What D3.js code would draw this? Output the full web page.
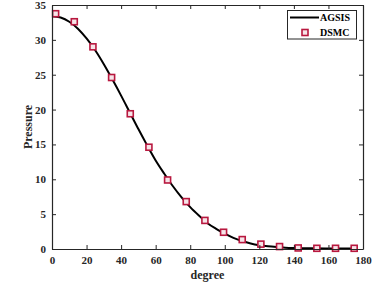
<!DOCTYPE html>
<html><head><meta charset="utf-8">
<script src="https://cdn.jsdelivr.net/npm/d3@7"></script>
<style>html,body{margin:0;padding:0;background:#fff;}svg{display:block;}</style>
</head><body>
<script>
// AGSIS curve (degree, pressure)
const agsisDeg = [0,5,10,15,20,25,30,35,40,45,50,55,60,65,70,75,80,85,90,95,100,105,110,115,120,125,130,135,140,150,160,170,175];
const agsisVal = [33.4,33.2,32.6,31.6,30.2,28.5,26.5,24.3,22.0,19.6,17.2,14.9,12.7,10.8,9.0,7.4,6.0,4.8,3.7,2.9,2.2,1.6,1.15,0.8,0.55,0.38,0.27,0.19,0.14,0.09,0.07,0.06,0.06];
// DSMC points
const dsmcDeg = [2.1,12.9,23.7,34.5,45.3,56.1,66.9,77.7,88.5,99.3,110.1,120.9,131.7,142.5,153.3,164.1,174.9];
const dsmcVal = [33.75,32.6,29.0,24.6,19.4,14.6,9.9,6.8,4.1,2.4,1.35,0.7,0.35,0.15,0.1,0.1,0.1];
const xTicks = [0,20,40,60,80,100,120,140,160,180];
const yTicks = [0,5,10,15,20,25,30,35];

const W = 383, H = 283;
const m = {l:52, r:20, t:5, b:34};
const svg = d3.select("body").append("svg").attr("width", W).attr("height", H);
const x = d3.scaleLinear().domain([0,180]).range([m.l, W - m.r]);
const y = d3.scaleLinear().domain([0,35]).range([H - m.b, m.t]);
const font = "'Liberation Serif','Times New Roman',serif";
const axisCol = "#262626";

function styleAxis(g, hideText) {
  g.select(".domain").attr("stroke", axisCol).attr("stroke-width", 1.2);
  g.selectAll(".tick line").attr("stroke", axisCol).attr("stroke-width", 1);
  g.selectAll("text").attr("font-family", font).attr("font-weight", "bold").attr("font-size", 11).attr("fill", "#262626");
  if (hideText) g.selectAll("text").remove();
}

const data = agsisDeg.map((d,i)=>({d, v: agsisVal[i]}));
const pts = dsmcDeg.map((d,i)=>({d, v: dsmcVal[i]}));

svg.append("path").datum(data)
  .attr("fill","none").attr("stroke","#000").attr("stroke-width",2)
  .attr("d", d3.line().x(p=>x(p.d)).y(p=>y(p.v)).curve(d3.curveMonotoneX));

svg.selectAll("rect.pt").data(pts).enter().append("rect")
  .attr("class","pt")
  .attr("x", p=>x(p.d)-3).attr("y", p=>y(p.v)-3)
  .attr("width",6).attr("height",6)
  .attr("fill","#f6e4e8").attr("stroke","#b8183f").attr("stroke-width",1.6);

// axes
const gx = svg.append("g").attr("transform",`translate(0,${H-m.b})`)
  .call(d3.axisBottom(x).tickValues(xTicks).tickSizeInner(-4).tickSizeOuter(0).tickPadding(7));
styleAxis(gx);
const gxt = svg.append("g").attr("transform",`translate(0,${m.t})`)
  .call(d3.axisTop(x).tickValues(xTicks).tickSizeInner(-4).tickSizeOuter(0));
styleAxis(gxt, true);
const gy = svg.append("g").attr("transform",`translate(${m.l},0)`)
  .call(d3.axisLeft(y).tickValues(yTicks).tickSizeInner(-4).tickSizeOuter(0).tickPadding(6));
styleAxis(gy);
const gyr = svg.append("g").attr("transform",`translate(${W-m.r},0)`)
  .call(d3.axisRight(y).tickValues(yTicks).tickSizeInner(-4).tickSizeOuter(0));
styleAxis(gyr, true);

// axis labels
svg.append("text").attr("x", (x(0)+x(180))/2).attr("y", 279)
  .attr("text-anchor","middle").attr("font-family",font).attr("font-weight","bold")
  .attr("font-size",12).attr("fill","#262626").text("degree");
svg.append("text").attr("transform",`translate(32,${(y(0)+y(35))/2}) rotate(-90)`)
  .attr("text-anchor","middle").attr("font-family",font).attr("font-weight","bold")
  .attr("font-size",12).attr("fill","#262626").text("Pressure");

// legend
const lg = svg.append("g");
lg.append("rect").attr("x",287.5).attr("y",10.5).attr("width",69).attr("height",28.5)
  .attr("fill","#fff").attr("stroke",axisCol).attr("stroke-width",1);
lg.append("line").attr("x1",290).attr("x2",319).attr("y1",17.5).attr("y2",17.5)
  .attr("stroke","#000").attr("stroke-width",2);
lg.append("text").attr("x",320).attr("y",21).attr("font-family",font).attr("font-weight","bold")
  .attr("font-size",10).attr("fill","#000").text("AGSIS");
lg.append("rect").attr("x",302).attr("y",29.5).attr("width",6).attr("height",6)
  .attr("fill","#f6e4e8").attr("stroke","#b8183f").attr("stroke-width",1.6);
lg.append("text").attr("x",320).attr("y",36).attr("font-family",font).attr("font-weight","bold")
  .attr("font-size",10).attr("fill","#000").text("DSMC");
</script>
</body></html>
